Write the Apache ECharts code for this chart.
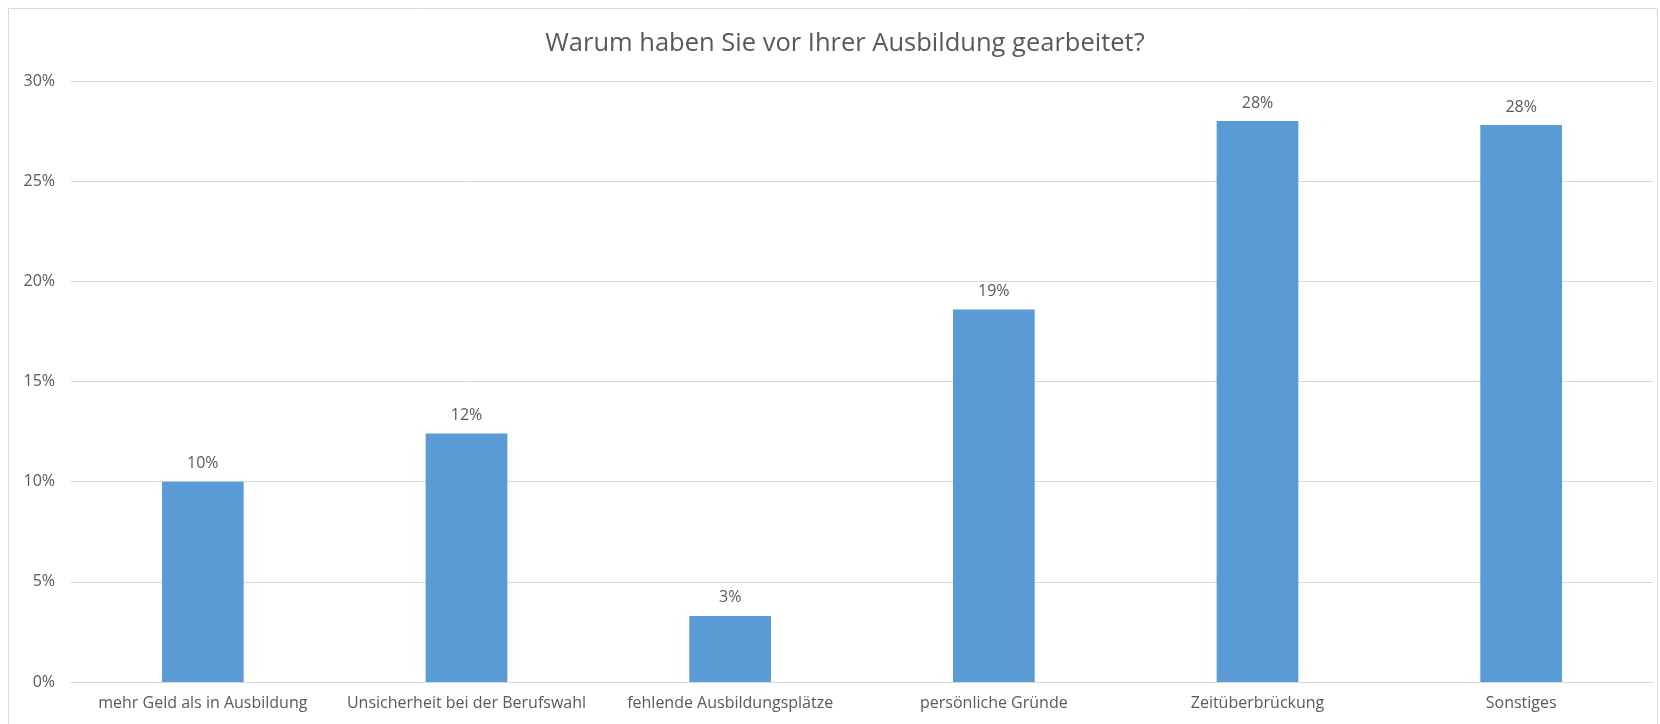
<!DOCTYPE html>
<html>
<head>
<meta charset="utf-8">
<style>
  html, body { margin: 0; padding: 0; background: #fff; }
  #chart { width: 1660px; height: 724px; }
</style>
<script src="https://cdn.jsdelivr.net/npm/echarts@6/dist/echarts.min.js"></script>
</head>
<body>
<div id="chart"></div>
<script>
// Antworten
const categories = [
  'mehr Geld als in Ausbildung',
  'Unsicherheit bei der Berufswahl',
  'fehlende Ausbildungsplätze',
  'persönliche Gründe',
  'Zeitüberbrückung',
  'Sonstiges',
];

// Anteile
const shares = [0.100, 0.124, 0.033, 0.186, 0.280, 0.278];

const textColor = '#595959';
const lineColor = '#d9d9d9';
const font = 'Open Sans';

const chart = echarts.init(document.getElementById('chart'));

const option = {
  backgroundColor: '#fff',
  animation: false,
  title: {
    text: 'Warum haben Sie vor Ihrer Ausbildung gearbeitet?',
    left: 840,
    textAlign: 'center',
    top: 26,
    textStyle: {
      fontFamily: font,
      fontSize: 25.5,
      fontWeight: 'normal',
      color: textColor,
    },
  },
  graphic: [
    {
      type: 'rect',
      shape: { x: 8.5, y: 8.5, width: 1649, height: 800 },
      style: { fill: 'none', stroke: lineColor, lineWidth: 1 },
      silent: true,
    },
  ],
  grid: {
    left: 71,
    right: 7,
    top: 81,
    bottom: 42,
    containLabel: false,
    outerBoundsMode: 'none',
  },
  xAxis: {
    type: 'category',
    data: categories,
    axisTick: { show: false },
    axisLine: { lineStyle: { color: lineColor, width: 1 } },
    axisLabel: {
      margin: 13,
      interval: 0,
      fontFamily: font,
      fontSize: 16,
      color: textColor,
    },
  },
  yAxis: {
    type: 'value',
    min: 0,
    max: 0.3,
    interval: 0.05,
    axisLine: { show: false },
    axisTick: { show: false },
    axisLabel: {
      margin: 16,
      fontFamily: font,
      fontSize: 16,
      color: textColor,
    formatter: (v) => Math.round(v * 100) + '%',
    },
    splitLine: { lineStyle: { color: lineColor, width: 1 } },
  },
  series: [
    {
      type: 'bar',
      data: shares,
      barWidth: '31%',
      itemStyle: { color: '#5b9bd5' },
      label: {
        show: true,
        position: 'top',
        distance: 10,
        fontFamily: font,
        fontSize: 16,
        color: textColor,
        formatter: (p) => Math.round(p.value * 100) + '%',
      },
    },
  ],
};

chart.setOption(option, true);
</script>
</body>
</html>
